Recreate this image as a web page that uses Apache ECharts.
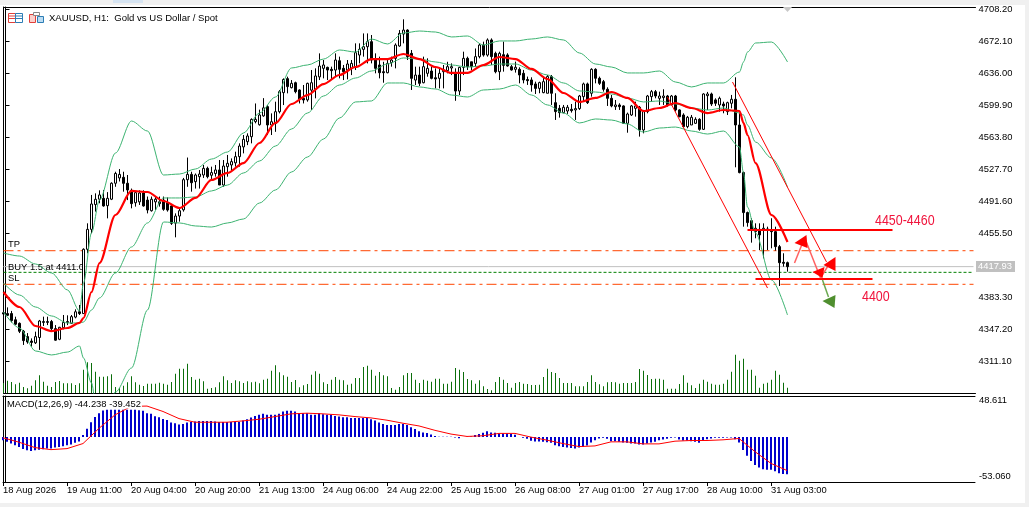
<!DOCTYPE html>
<html><head><meta charset="utf-8">
<style>html,body{margin:0;padding:0;background:#f0f0f0}#c{width:1029px;height:507px}</style>
<script src="https://cdn.jsdelivr.net/npm/echarts@6/dist/echarts.min.js"></script>
</head><body><div id="c"></div>
<script>
const tickLabels=['18 Aug 2026','19 Aug 11:00','20 Aug 04:00','20 Aug 20:00','21 Aug 13:00','24 Aug 06:00','24 Aug 22:00','25 Aug 15:00','26 Aug 08:00','27 Aug 01:00','27 Aug 17:00','28 Aug 10:00','31 Aug 03:00'];
const priceTicks=[4708.2,4672.1,4636,4599.9,4563.8,4527.7,4491.6,4455.5,4383.3,4347.2,4311.1];
const macdTicks=[48.611,-53.06];
const opens=[4366,4365,4365,4358,4354,4345,4339,4334,4332,4338,
4355,4355,4356,4348,4336,4349,4355,4354,4361,4367,
4365,4437.5,4460,4487.9,4494,4495,4486.7,4494,4512,4518,
4518.7,4512,4504,4490,4491,4501,4493,4481,4491,4491,
4493,4490,4486.4,4467,4475,4482,4516,4522,4513.8,4519.4,
4521.3,4528.8,4521,4523,4527,4510,4530.7,4532.6,4535,4542,
4553,4558.9,4564.5,4581.5,4578,4588,4598.4,4577.7,4579.6,4592.7,
4614.2,4630,4619.8,4625.4,4617.2,4607.8,4606,4617,4617.9,4632,
4641.6,4642.7,4640.5,4639.7,4650.2,4641.6,4639.7,4641.6,4643.5,4656.6,
4663,4666,4671.7,4651,4645.4,4637.8,4636.7,4648,4652.9,4666.8,
4680.3,4684.8,4658.5,4628.4,4634,4625.4,4636,4638.6,4631,4630.3,
4637.8,4639,4642,4636,4616,4642.7,4652.9,4649,4647.2,4654.8,
4667.9,4656.6,4673.6,4658.5,4637.8,4657,4656.7,4643.5,4640.5,4640.5,
4636,4629,4628.5,4624,4619,4614.2,4613.5,4632.3,4602.9,4596.5,
4591.6,4593.5,4595.4,4594.7,4596.2,4609.7,4624,4613.5,4640.5,4630.4,
4626.6,4618,4607.8,4598.4,4600.3,4599.2,4579.6,4589,4596.5,4597.7,
4572.1,4592.8,4609.7,4615.3,4607.8,4608.6,4610.4,4600.3,4610.4,4594.7,
4589,4575.9,4577.7,4579.6,4584.1,4572.8,4610.8,4612.7,4606,4600.3,
4601.4,4592.8,4602.2,4606.7,4577.7,4524,4478.9,4469.8,4457.4,4460,
4459.3,4460.4,4459.3,4457.4,4440.5,4422.8,4422.4];
const closes=[4364.5,4363,4357,4353,4345,4334.5,4333,4332.5,4339,4356.6,
4356,4356,4348,4335,4349.5,4355,4356,4361.5,4367,4365,
4437.5,4460,4488.6,4493.9,4498.8,4486.4,4495,4512,4523,4522,
4511.9,4504.4,4489,4501.4,4501,4486.4,4481.8,4493.9,4494,4489,
4482.6,4481.8,4466.8,4475,4481,4516,4522,4512.6,4521.3,4522.4,
4528.8,4519.4,4524,4527,4510,4531.4,4534.5,4536.4,4542,4554,
4561.5,4565.3,4584,4584,4589,4597,4577.7,4581.4,4592.7,4615.3,
4629,4621,4624.7,4615.3,4606.6,4605.9,4624.7,4625.4,4633,4644.2,
4645.4,4639.7,4639,4651,4640.5,4637.8,4646.5,4647.2,4659.3,4663,
4666,4671.7,4651,4641.6,4636.7,4636.7,4647.2,4651,4667.9,4681,
4684.8,4654.8,4630.3,4634,4624.7,4643.5,4641.6,4630.3,4629.6,4636,
4639.7,4643.5,4643.5,4616,4642.7,4652.9,4643.5,4643.5,4654.8,4667.9,
4656.6,4673.6,4654.8,4637.8,4658.5,4645,4644.3,4639.8,4642.8,4634.1,
4628.5,4627.7,4622.9,4619,4625.5,4626.6,4632.3,4613.5,4592.8,4591.6,
4597.7,4597.7,4593.9,4596.2,4610.4,4624,4602.9,4640.5,4630.4,4624.7,
4618,4607.8,4599.2,4600.3,4598.4,4579.6,4590.1,4599.2,4599.2,4572.1,
4592.8,4610.4,4615.3,4610.4,4610.4,4610.4,4600.3,4610.4,4594.7,4587.1,
4575.9,4586.4,4586.4,4584.1,4572.8,4612.7,4612.7,4601.4,4602.2,4607.8,
4599.2,4602.9,4606.7,4577.7,4524,4478.9,4467.6,4459.3,4461.2,4453.7,
4461.2,4459.3,4457.4,4440.5,4422.4,4421.7,4417.9];
const highs=[4369,4372,4368,4361.5,4355,4346.5,4343,4337,4344.6,4357.8,
4361.5,4361.5,4357.8,4352,4350,4363.4,4363,4363.4,4369.8,4374.7,
4438.6,4466.8,4498.8,4500.6,4504,4504.4,4502,4513,4525,4528,
4525,4521.3,4506,4502.5,4504,4504,4497,4497,4497,4497,
4497,4496,4487.5,4478,4483.7,4518,4541,4525,4523,4526.9,
4532.6,4530.7,4530.7,4532.6,4538.2,4538.2,4543.9,4540,4547.6,4557,
4566.4,4568.3,4585.2,4602,4595,4608,4600.2,4590.8,4604,4617.2,
4630.3,4632.2,4628.4,4626.6,4617.9,4622.8,4625.4,4639.7,4641.6,4658.5,
4651,4643.5,4643.5,4658.5,4654.8,4645.4,4651,4651,4669.8,4669.8,
4681,4681,4679.2,4658.5,4654.8,4649,4652.9,4654.8,4669.8,4684.8,
4696.9,4685.6,4662.3,4643.5,4643.5,4654.8,4652.9,4643.5,4641.6,4641.6,
4645.4,4649,4647.2,4641.6,4643.5,4660.4,4654.8,4649,4664,4669.8,
4671.7,4675.4,4675.4,4660.4,4660.4,4671.7,4658.6,4645.4,4649.2,4642.8,
4639.8,4632.3,4631.5,4626.6,4626.6,4632.3,4634.1,4634.1,4613.5,4600.3,
4600.3,4600.3,4601.4,4604,4611.6,4625.5,4625.5,4641.7,4641.7,4632.3,
4628.5,4620.2,4611.6,4605.9,4602.2,4599.9,4591.7,4600.3,4604,4599.2,
4594.7,4611.6,4617.2,4617.2,4615.3,4618,4611.6,4611.6,4611.6,4595.4,
4590.9,4587.9,4589,4586.4,4585.3,4613.5,4615,4614.2,4607.8,4609.7,
4604,4604,4611.6,4631.5,4590.9,4525.1,4480,4472.5,4466.8,4466.8,
4466.8,4463,4472.5,4463,4442.4,4433,4423.6];
const lows=[4363.4,4362.3,4355,4352,4343,4329.6,4331,4327.7,4330.7,4324,
4351,4352,4345.7,4334.4,4335,4347.2,4352,4353.2,4359.6,4363.4,
4364.5,4433,4455.5,4480,4489.4,4485.6,4472.4,4493,4508,4514,
4502.5,4493,4483.7,4485.6,4487.5,4485.6,4478,4480,4481.8,4485.6,
4481,4480,4465,4451,4468.7,4480,4508,4502.5,4506,4506,
4518,4517.5,4515.7,4519.4,4510,4508,4519.4,4526.9,4530.7,4530.7,
4545.7,4555,4557,4579.6,4577,4587,4566.4,4566.4,4570,4590.8,
4600.2,4613.4,4619,4613.4,4602,4602,4604,4594.6,4607.8,4628.4,
4630.3,4628.4,4628.4,4632.2,4630.3,4628.4,4629.2,4634,4639.7,4647.2,
4654.8,4647.2,4647.2,4636,4630.3,4625.4,4636,4643.5,4641.6,4666,
4669.8,4651,4617.2,4622.8,4621.7,4624.7,4632.2,4629.2,4619,4619,
4619,4636,4634,4605,4611.5,4634,4639.7,4639.7,4643.5,4652.9,
4654.8,4654.8,4645.4,4636,4628.4,4637.9,4643.5,4639,4636.8,4624.7,
4624.7,4622.9,4615.3,4612.7,4613.5,4613.5,4613.5,4600.3,4583.4,4586,
4590.9,4590.2,4591.7,4583.4,4594.7,4604,4601.4,4609.7,4624.7,4622.9,
4615.3,4599.2,4597.7,4594.7,4594.7,4578.9,4569,4587.9,4587.1,4564.6,
4568.3,4590.9,4604,4607.8,4600.3,4600.3,4598.4,4600.3,4592.8,4586.4,
4574,4574,4577.7,4578.9,4571.3,4572.1,4594.7,4599.2,4599.2,4592.8,
4590.9,4589,4596.5,4530,4523.2,4463,4463,4445,4449.9,4436.7,
4427.3,4436.7,4438.6,4436,4396.1,4417.9,4412.3];
const volumes=[1000,1230,1100,870,1030,600,470,730,1270,1770,1130,730,600,1100,1200,970,970,970,800,970,2330,3070,3000,2130,1630,1630,1670,1870,600,500,730,1070,1670,1070,830,700,930,930,930,1030,930,830,1100,1930,2430,2430,2930,1600,1330,1430,1170,430,500,570,1070,1670,1270,1000,1270,1170,1000,1170,1070,1130,970,1330,1430,2230,2770,2070,1770,1630,1100,1300,570,770,900,1830,2170,1930,1070,900,1330,1600,1330,1270,830,
930,1500,1500,2600,2730,2330,1730,2100,1770,1670,500,330,600,1770,2000,2000,1330,1000,1330,1230,1130,1430,1430,930,930,1130,2500,2330,2100,1400,1270,930,1270,670,400,270,1100,1600,1330,1000,530,1000,1100,930,900,800,800,830,1600,2430,2100,2000,1500,1000,1000,1000,670,670,670,1100,1770,1100,870,670,1070,1100,1070,930,1000,1000,1000,1100,2400,2230,1800,1400,1430,1430,1330,430,430,430,900,1770,1030,770,500,
930,1330,1130,930,830,830,930,1330,2130,3830,3230,3430,2330,2330,1730,530,930,1030,1330,2230,1830,1030,530];
const macdHist=[-3.6,-5.6,-7.6,-9.6,-11.6,-14,-15.6,-16.4,-15.6,-14.8,-14.4,-13.6,-13.6,-12.4,-11.6,-10.8,-9.6,-8.8,-6.8,-5.2,2.4,10,17.6,23.9,28.3,31.5,32.3,32.3,32.3,32.3,32.3,32.3,32.3,32.3,31.9,31.1,28.3,27.5,24.7,23.5,21.5,20.3,17.2,16.4,14.8,15.6,17.2,18,18.4,19.2,19.2,19.2,19.2,18.4,18,18,18,18,18,18,19.6,21.1,23.1,25.1,26.3,27.5,26.3,26.3,26.3,27.5,30.3,31.1,31.1,30.3,28.3,28.3,28.3,26.3,26.3,28.3,27.1,26.3,26.3,25.1,24.3,23.5,23.5,
22.7,22.7,22.7,22.7,22.7,21.1,19.6,17.2,15.6,14.4,14.4,14.4,15.6,15.6,14.4,11.6,9.6,6.8,5.6,4.8,3.2,1.2,.4,.4,.4,.4,-.4,-1.2,0,.4,.8,2.4,3.6,5.2,6.8,5.6,5.2,4.4,4.4,4.4,3.6,2.8,0,-.8,-2,-4.4,-5.2,-5.2,-5.6,-6,-6.8,-9.6,-10.8,-11.6,-12.4,-12.8,-13.6,-12.4,-11.6,-10,-6.4,-3.6,-1.6,-.8,-2,-4.8,-4.8,-5.6,-6.4,-6.8,-7.6,-7.6,-8.8,-8.8,-7.6,-6.4,-5.6,-3.6,-2.8,-2,-.8,-.4,-2.8,-4,-4,-4.8,-5.6,
-6.8,-4.4,-2.4,-1.6,-.8,-.8,-.8,-.4,-.4,-2.4,-6.4,-15.2,-21.9,-28.3,-33.1,-35.9,-37.9,-38.7,-38.7,-40.3,-42.7,-43.5,-43.9];
const bandIdx=[0,4,8,12,16,19,20,22,24,28,32,36,40,44,48,52,56,60,64,68,72,76,80,84,88,92,96,100,104,108,112,116,120,124,128,132,136,140,144,148,152,156,160,164,168,172,176,180,184,185,186,188,192,196];
const bbUpper=[4433.3,4429.9,4420.9,4410.8,4391.6,4367.9,4399.5,4455.9,4493.1,4546.1,4582.2,4570.9,4521.3,4522.4,4528.1,4539.3,4547.2,4568.7,4591.2,4609.3,4642,4645.4,4652.1,4662.3,4660,4674.7,4669.1,4681.5,4683.7,4682.6,4677,4678.1,4667.9,4672.5,4672.5,4674.7,4677,4673.6,4658.9,4646.5,4643.1,4636.4,4636.4,4638.6,4626.2,4620.6,4625.1,4625.1,4637.5,4648.8,4660,4670.2,4671.3,4648.8];
const bbMiddle=[4399.5,4385.9,4372.4,4362.3,4354.4,4354.4,4355.5,4369,4382.6,4410.8,4440.1,4467.2,4495.4,4495.4,4496.5,4503.3,4510,4523.6,4537.1,4554,4573.2,4591.2,4610.4,4622.8,4630.7,4638.6,4646.5,4653.3,4652.1,4648.8,4645.4,4643.1,4644.3,4646.5,4646.5,4639.7,4634.1,4625.1,4616.1,4614.9,4612.7,4608.2,4603.7,4604.8,4601.4,4596.9,4594.6,4596.9,4591.2,4589,4577.7,4558.5,4540.5,4507.8];
const bbLower=[4366.8,4348.7,4322.8,4318.3,4321.6,4328.4,4314.9,4286.7,4222.4,4276.5,4303.6,4369,4468.3,4467.2,4463.8,4462.6,4467.2,4471.7,4489.7,4504.4,4524.7,4541.6,4561.9,4585.6,4603.7,4604.8,4625.1,4625.1,4620.6,4618.3,4611.5,4609.3,4617.2,4618.3,4622.8,4611.5,4600.3,4591.2,4580,4584.5,4583.3,4578.8,4569.8,4574.3,4575.4,4570.9,4567.5,4570.9,4552.9,4523.6,4485.2,4455.9,4402.9,4363.4];
const maLine=[4389.3,4372.4,4351,4345.3,4348.7,4354.4,4360,4389.3,4422,4476.2,4503.3,4502.1,4492,4484.1,4495.4,4515.7,4523.6,4534.8,4557.4,4580,4601.4,4611.5,4623.9,4634.1,4643.1,4652.1,4652.1,4657.8,4652.1,4643.1,4636.4,4636.4,4645.4,4654.4,4652.1,4640.9,4629.6,4613.8,4603.7,4608.2,4614.9,4608.2,4593.5,4596.9,4602.5,4596.9,4591.2,4594.6,4593.5,4580,4566.4,4534.8,4476.2,4445.7];
const signalIdx=[0,4,8,12,16,20,24,28,32,36,40,44,48,52,56,60,64,68,72,76,80,84,88,92,96,100,104,108,112,116,120,124,128,132,136,140,144,148,152,156,160,164,168,172,176,180,184,188,192,196];
const macdSignal=[-.8,-6,-12.4,-14.8,-13.6,-7.6,10.4,26.3,36.3,36.7,30.3,21.9,17.6,17.6,17.6,19.2,21.1,24.3,27.5,28.3,27.5,26.3,24.3,22.7,20,16.4,13.2,8,3.6,.8,1.6,4.4,4.4,0,-3.6,-7.6,-11.2,-10.4,-5.6,-5.6,-8,-8,-4.8,-4,-4,-3.2,-1.6,-17.2,-31.1,-39.5];
const levelTP=4435.9, levelSL=4398, levelBuy=4411.5, levelBid=4417.93, levelUpper=4459.3, levelLower=4404;
const channelUpper=[[182.25,4626.2],[205.75,4423.2]];
const channelLower=[[166,4609.3],[191,4393.8]];
const zoneUpper=[[186,levelUpper],[222.25,levelUpper]];
const zoneLower=[[188,levelLower],[217.25,levelLower]];
const arrowRedA=[[197.75,4422],[199.75,4444.6]];
const arrowRedB=[[200.5,4448],[204.25,4405.1]];
const arrowRedC=[[204.25,4405.1],[206.75,4423.2]];
const arrowGreen=[[204.75,4402.9],[206.25,4383.7]];
const redHeads=[[[200.75,4453.6],[197.75,4444.6],[201,4439]],[[202.25,4411.9],[205.25,4417.5],[204.75,4405.1]],[[205,4419.8],[208,4428.8],[208,4413]]];
const greenHeads=[[[204.75,4379.2],[208,4386],[207.75,4371.3]]];

const SLOTS=244, LABEL_EVERY=16;
const categories=Array.from({length:SLOTS},(_,i)=>i%LABEL_EVERY===0&&tickLabels[i/LABEL_EVERY]?tickLabels[i/LABEL_EVERY]:'b'+i);
const isLabel=i=>i%LABEL_EVERY===0&&i/LABEL_EVERY<tickLabels.length;
const candleData=opens.map((o,i)=>[o,closes[i],lows[i],highs[i]]);
const pair=(xs,ys)=>xs.map((x,i)=>[x,ys[i]]);
const FONT='"Liberation Sans",Arial,sans-serif';
const line=(name,data,color,width,extra)=>Object.assign({name,type:'line',xAxisIndex:1,yAxisIndex:0,data,symbol:'none',animation:false,silent:true,lineStyle:{color,width}},extra||{});
const soft={smooth:0.3,smoothMonotone:'x'};
const tri=(name,list,color)=>({name,type:'custom',xAxisIndex:1,yAxisIndex:0,z:9,silent:true,animation:false,clip:true,
 data:list.map(t=>t[0]),encode:{x:0,y:1},
 renderItem:(p,api)=>({type:'polygon',shape:{points:list[p.dataIndex].map(v=>api.coord(v))},style:{fill:color}})});
const hline=v=>[[0,v],[242.5,v]];

const chart=echarts.init(document.getElementById('c'),null,{renderer:'canvas'});
chart.setOption({
 animation:false,backgroundColor:'transparent',textStyle:{fontFamily:FONT},
 grid:[{left:3.5,top:7,width:972,height:386},{left:3,top:396,width:972,height:86}],
 xAxis:[
  {type:'category',gridIndex:0,data:categories,boundaryGap:false,axisLine:{onZero:false,lineStyle:{color:'#000'}},axisTick:{show:false},axisLabel:{show:false},splitLine:{show:false}},
  {type:'value',gridIndex:0,min:0,max:243,position:'top',axisLine:{show:true,onZero:false,lineStyle:{color:'#000'}},axisTick:{show:false},axisLabel:{show:false},splitLine:{show:false}},
  {type:'category',gridIndex:1,data:categories,boundaryGap:false,position:'bottom',axisLine:{onZero:false,lineStyle:{color:'#000'}},
   axisTick:{show:true,length:4,interval:i=>isLabel(i),alignWithLabel:true,lineStyle:{color:'#000'}},
   axisLabel:{show:true,interval:i=>isLabel(i),align:'left',margin:4,fontSize:9.4,color:'#000',fontFamily:FONT,hideOverlap:false,formatter:(v)=>v}},
  {type:'value',gridIndex:1,min:0,max:243,position:'top',axisLine:{show:true,onZero:false,lineStyle:{color:'#000'}},axisTick:{show:false},axisLabel:{show:false},splitLine:{show:false}}
 ],
 yAxis:[
  {type:'value',gridIndex:0,position:'right',offset:-2,min:4275.4,max:4710.8,axisLine:{show:true,lineStyle:{color:'#000'}},
   axisTick:{show:true,length:4,lineStyle:{color:'#000'},customValues:priceTicks},
   axisLabel:{margin:5,fontSize:9.4,color:'#000',fontFamily:FONT,customValues:priceTicks,formatter:v=>v.toFixed(2)},splitLine:{show:false}},
  {type:'value',gridIndex:0,position:'left',min:0,max:38600,axisLine:{show:true,lineStyle:{color:'#000'}},axisTick:{show:false},axisLabel:{show:false},splitLine:{show:false}},
  {type:'value',gridIndex:1,position:'right',offset:-2,min:-53.06,max:48.611,axisLine:{show:true,lineStyle:{color:'#000'}},
   axisTick:{show:true,length:4,lineStyle:{color:'#000'},customValues:macdTicks},
   axisLabel:{show:false},splitLine:{show:false}},
  {type:'value',gridIndex:1,position:'left',min:-53.06,max:48.611,axisLine:{show:true,lineStyle:{color:'#000'}},axisTick:{show:false},axisLabel:{show:false},splitLine:{show:false}}
 ],
 series:[
  {name:'Volume',type:'bar',xAxisIndex:0,yAxisIndex:1,data:volumes,barWidth:1,itemStyle:{color:'#0b6e0b'},silent:true,z:1,animation:false},
  line('Bid',hline(levelBid),'#c0c0c0',1,{z:1}),
  line('TP',hline(levelTP),'#ff4500',1,{z:1,lineStyle:{color:'#ff4500',width:1,type:[10,4,3,4]}}),
  line('SL',hline(levelSL),'#ff4500',1,{z:1,lineStyle:{color:'#ff4500',width:1,type:[10,4,3,4]}}),
  line('Buy',hline(levelBuy),'#008000',1,{z:1,lineStyle:{color:'#008000',width:1,type:[3,2]}}),
  {name:'XAUUSD',type:'candlestick',xAxisIndex:0,yAxisIndex:0,data:candleData,barWidth:2,z:3,silent:true,animation:false,
   itemStyle:{color:'#fff',color0:'#000',borderColor:'#000',borderColor0:'#000',borderWidth:1}},
  line('BB Upper',pair(bandIdx,bbUpper),'#3cb371',1,Object.assign({z:4},soft)),
  line('BB Middle',pair(bandIdx,bbMiddle),'#3cb371',1,Object.assign({z:4},soft)),
  line('BB Lower',pair(bandIdx,bbLower),'#3cb371',1,Object.assign({z:4},soft)),
  line('MA',pair(bandIdx,maLine),'#ff0000',2.2,Object.assign({z:5},soft)),
  line('Channel upper',channelUpper,'#ff0000',1,{z:6}),
  line('Channel lower',channelLower,'#ff0000',1,{z:6}),
  line('Zone 4450-4460',zoneUpper,'#ff0000',2,{z:7}),
  line('Zone 4400',zoneLower,'#ff0000',2,{z:7}),
  line('Arrow A',arrowRedA,'#ff6060',1.5,{z:8}),
  line('Arrow B',arrowRedB,'#ff6060',1.5,{z:8}),
  line('Arrow C',arrowRedC,'#ff6060',1.5,{z:8}),
  line('Arrow green',arrowGreen,'#6aa84f',1.5,{z:8}),
  tri('Red heads',redHeads,'#ff0000'),
  tri('Green heads',greenHeads,'#4f8f2f'),
  {name:'MACD',type:'bar',xAxisIndex:2,yAxisIndex:2,data:macdHist,barWidth:2,itemStyle:{color:'#0000cd'},silent:true,animation:false,z:2},
  {name:'Signal',type:'line',xAxisIndex:3,yAxisIndex:2,data:pair(signalIdx,macdSignal),symbol:'none',lineStyle:{color:'#ff0000',width:1},silent:true,animation:false,z:3}
 ],
 graphic:[
  {type:'rect',z:-10,silent:true,shape:{x:0,y:5,width:1025,height:498},style:{fill:'#fff'}},
  {type:'rect',z:100,silent:true,shape:{x:113,y:0,width:30,height:3},style:{fill:'#d6e4f2',stroke:'#b5b5b5',lineWidth:0}},
  {type:'polygon',z:100,silent:true,shape:{points:[[783,7],[792,7],[787.5,12]]},style:{fill:'#c8c8c8'}},
  // toolbar icons
  {type:'rect',z:100,silent:true,shape:{x:8.5,y:13.5,width:7,height:9},style:{fill:'#fff',stroke:'#e0403a',lineWidth:1}},
  {type:'rect',z:100,silent:true,shape:{x:15.5,y:13.5,width:7,height:9},style:{fill:'#fff',stroke:'#2c7db5',lineWidth:1}},
  {type:'polyline',z:100,silent:true,shape:{points:[[9,16],[15,16]]},style:{stroke:'#e0403a',lineWidth:1}},
  {type:'polyline',z:100,silent:true,shape:{points:[[9,18.5],[15,18.5]]},style:{stroke:'#e0403a',lineWidth:1}},
  {type:'polyline',z:100,silent:true,shape:{points:[[16,16],[22,16]]},style:{stroke:'#2c7db5',lineWidth:1}},
  {type:'polyline',z:100,silent:true,shape:{points:[[16,18.5],[22,18.5]]},style:{stroke:'#2c7db5',lineWidth:1}},
  {type:'rect',z:100,silent:true,shape:{x:29.5,y:14.5,width:6,height:8},style:{fill:'#fbd0cc',stroke:'#e0403a',lineWidth:1}},
  {type:'rect',z:100,silent:true,shape:{x:37.5,y:16.5,width:6,height:6},style:{fill:'#bcdcf2',stroke:'#2c7db5',lineWidth:1}},
  {type:'rect',z:100,silent:true,shape:{x:33.5,y:12.5,width:6,height:3},style:{fill:'#fff',stroke:'#888',lineWidth:1}},
  // texts
  {type:'text',z:100,silent:true,x:49,y:18.5,style:{text:'XAUUSD, H1:  Gold vs US Dollar / Spot',fontSize:9.55,fontFamily:FONT,fill:'#000',textVerticalAlign:'middle'}},
  {type:'text',z:100,silent:true,x:8,y:244,style:{text:'TP',fontSize:9.4,fontFamily:FONT,fill:'#000',textVerticalAlign:'middle'}},
  {type:'text',z:2,silent:true,x:8,y:267,style:{text:'BUY 1.5 at 4411.0',fontSize:9.4,fontFamily:FONT,fill:'#000',textVerticalAlign:'middle'}},
  {type:'text',z:100,silent:true,x:8,y:278,style:{text:'SL',fontSize:9.4,fontFamily:FONT,fill:'#000',textVerticalAlign:'middle'}},
  {type:'text',z:100,silent:true,x:875,y:221,scaleX:0.89,style:{text:'4450-4460',fontSize:14,fontFamily:FONT,fill:'#f0143c',textVerticalAlign:'middle'}},
  {type:'text',z:100,silent:true,x:862,y:297,scaleX:0.89,style:{text:'4400',fontSize:14,fontFamily:FONT,fill:'#f0143c',textVerticalAlign:'middle'}},
  {type:'text',z:100,silent:true,x:6,y:404,style:{text:'MACD(12,26,9) -44.238 -39.452',fontSize:9.4,fontFamily:FONT,fill:'#000',textVerticalAlign:'middle',backgroundColor:'#fff',padding:[0,1]}},
  {type:'text',z:100,silent:true,x:979,y:400.7,style:{text:'48.611',fontSize:9.4,fontFamily:FONT,fill:'#000',textVerticalAlign:'middle'}},
  {type:'text',z:100,silent:true,x:979,y:476.7,style:{text:'-53.060',fontSize:9.4,fontFamily:FONT,fill:'#000',textVerticalAlign:'middle'}},
  {type:'rect',z:100,silent:true,shape:{x:976,y:261,width:39,height:11},style:{fill:'#c0c0c0'}},
  {type:'text',z:101,silent:true,x:978,y:266.5,style:{text:'4417.93',fontSize:9.4,fontFamily:FONT,fill:'#fff',textVerticalAlign:'middle'}}
 ]
});
</script></body></html>
